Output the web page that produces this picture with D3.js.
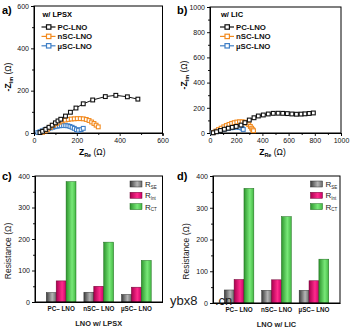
<!DOCTYPE html>
<html><head><meta charset="utf-8">
<script src="https://cdn.jsdelivr.net/npm/d3@7"></script>
<style>body{margin:0;background:#fff}svg{display:block}text{font-family:"Liberation Sans",Arial,sans-serif}</style>
</head><body>
<script>
// ---- Data: EIS (Zre, -Zim) ----
const seriesNames = ["PC-LNO", "nSC-LNO", "µSC-LNO"];
const pcLPSX = [[28,2],[40,8],[55,17],[70,27],[85,37],[100,48],[112,57],[125,65],[147,80],[170,98],[196,118],[230,138],[274,156],[333,172],[382,178],[436,171],[485,160]];
const nscLPSX = [[40,3],[52,10],[64,18],[77,27],[90,36],[104,44],[118,51],[132,57],[146,61],[160,64],[174,66],[188,67],[202,68],[216,68],[230,67],[244,64],[257,59],[269,52],[280,45],[290,37],[300,29]];
const uscLPSX = [[18,2],[28,6],[38,10],[48,14],[58,18],[68,21],[78,24],[88,27],[98,30],[108,32],[118,34],[128,35],[138,35],[148,35],[158,34],[168,31],[178,27],[188,22],[198,16],[208,13],[220,16],[230,22]];
const pcLIC = [[25,2],[50,10],[80,20],[110,30],[140,38],[170,45],[200,52],[237,63],[267,82],[300,103],[336,121],[369,135],[407,143],[445,151],[483,156],[520,157],[555,156],[590,154],[625,151],[660,149],[695,150],[725,152],[757,155],[789,159]];
const nscLIC = [[25,3],[45,15],[65,27],[85,38],[105,49],[125,59],[145,68],[165,76],[185,82],[205,87],[225,89],[245,89],[265,86],[282,78],[296,66],[308,52],[318,38],[326,26],[332,18]];
const uscLIC = [[20,2],[40,10],[60,17],[80,23],[100,29],[120,34],[140,38],[160,41],[180,43],[200,45],[225,44],[245,38],[254,28]];
// ---- Data: resistances ----
const cats = ["PC– LNO", "nSC– LNO", "µSC– LNO"];
const resKeys = ["SE", "Int", "CT"];
const rseLPSX = [30, 31, 24];
const rintLPSX = [67, 50, 47];
const rctLPSX = [382, 190, 132];
const rseLIC = [41, 40, 40];
const rintLIC = [74, 73, 70];
const rctLIC = [361, 272, 138];
// ticks
const ticksA = [0,200,400,600], minorA = [100,300,500];
const ticksB = [0,200,400,600,800,1000], minorB = [100,300,500,700,900];
const ticksBar = [0,100,200,300,400], minorBar = [50,150,250,350];

const colors = ["#111111", "#f28a1e", "#3f7fc6"];
const W = 351, H = 329;
const svg = d3.select("body").append("svg").attr("width", W).attr("height", H);
const defs = svg.append("defs");
function grad(id, c0, c1, c2){
  const g = defs.append("linearGradient").attr("id", id).attr("x1","0").attr("x2","1").attr("y1","0").attr("y2","0");
  g.append("stop").attr("offset","0").attr("stop-color", c0);
  g.append("stop").attr("offset","0.6").attr("stop-color", c1);
  g.append("stop").attr("offset","1").attr("stop-color", c2);
}
grad("gGray", "#3c3c3c", "#b5b5b5", "#6a6a6a");
grad("gPink", "#a8004f", "#ff2b8c", "#cc0068");
grad("gGreen", "#2e962e", "#78e878", "#44b844");
const barFills = ["url(#gGray)", "url(#gPink)", "url(#gGreen)"];
const barStroke = ["#333", "#6a0030", "#1d6b1d"];

function styleAxis(g){
  g.selectAll("path").attr("stroke", "#000").attr("stroke-width", 1);
  g.selectAll("line").attr("stroke", "#000").attr("stroke-width", 0.9);
  g.selectAll("text").attr("font-size", 7).attr("fill", "#111");
}

function frame(L, R, T, B){
  svg.append("rect").attr("x", L).attr("y", T).attr("width", R-L).attr("height", B-T)
    .attr("fill", "none").attr("stroke", "#000").attr("stroke-width", 1);
}

function eisPanel(o){
  const x = d3.scaleLinear().domain(o.xd).range([o.L, o.R]);
  const y = d3.scaleLinear().domain(o.yd).range([o.B, o.T]);
  const gx = svg.append("g").attr("transform", `translate(0,${o.B})`)
    .call(d3.axisBottom(x).tickValues(o.ticks).tickSize(3).tickPadding(2).tickFormat(d3.format("d")));
  styleAxis(gx);
  const gxm = svg.append("g").attr("transform", `translate(0,${o.B})`)
    .call(d3.axisBottom(x).tickValues(o.minor).tickSize(2).tickFormat(""));
  styleAxis(gxm);
  const gy = svg.append("g").attr("transform", `translate(${o.L},0)`)
    .call(d3.axisLeft(y).tickValues(o.ticks).tickSize(3).tickPadding(2).tickFormat(d3.format("d")));
  styleAxis(gy);
  const gym = svg.append("g").attr("transform", `translate(${o.L},0)`)
    .call(d3.axisLeft(y).tickValues(o.minor).tickSize(2).tickFormat(""));
  styleAxis(gym);
  frame(o.L, o.R, o.T, o.B);
  const order = [2,1,0];
  const line = d3.line().x(d => x(d[0])).y(d => y(d[1]));
  order.forEach(i => {
    const data = o.series[i];
    svg.append("path").datum(data).attr("d", line).attr("fill", "none")
      .attr("stroke", colors[i]).attr("stroke-width", 1);
    const s = 3.8;
    svg.append("g").selectAll("rect").data(data).join("rect")
      .attr("x", d => x(d[0]) - s/2).attr("y", d => y(d[1]) - s/2)
      .attr("width", s).attr("height", s).attr("fill", "#fff")
      .attr("stroke", colors[i]).attr("stroke-width", 1.1);
  });
  svg.append("text").attr("x", o.legX + 1).attr("y", o.legY).attr("font-size", 7.5)
    .attr("font-weight", "bold").text(o.title);
  seriesNames.forEach((n, i) => {
    const ly = o.legY + 10 + i * 9.4;
    svg.append("line").attr("x1", o.legX).attr("x2", o.legX + 14).attr("y1", ly).attr("y2", ly)
      .attr("stroke", colors[i]).attr("stroke-width", 1.2);
    svg.append("rect").attr("x", o.legX + 5).attr("y", ly - 2.2).attr("width", 4.4).attr("height", 4.4)
      .attr("fill", "#fff").attr("stroke", colors[i]).attr("stroke-width", 1.2);
    svg.append("text").attr("x", o.legX + 16).attr("y", ly + 2.8).attr("font-size", 7.8)
      .attr("font-weight", "bold").attr("fill", "#111").text(n);
  });
  const xt = svg.append("text").attr("x", (o.L + o.R)/2 + o.xtOff).attr("y", o.B + 22)
    .attr("text-anchor", "middle").attr("font-size", 8.5).attr("font-weight", "bold");
  xt.append("tspan").text("Z");
  xt.append("tspan").attr("font-size", 5.5).attr("dy", 2).text("Re");
  xt.append("tspan").attr("dy", -2).attr("font-weight", "normal").text(" (Ω)");
  const yt = svg.append("text").attr("transform", `translate(${o.L - 23},${o.ytY}) rotate(-90)`)
    .attr("text-anchor", "middle").attr("font-size", 8.5).attr("font-weight", "bold");
  yt.append("tspan").text("-Z");
  yt.append("tspan").attr("font-size", 5.5).attr("dy", 2).text("Im");
  yt.append("tspan").attr("dy", -2).attr("font-weight", "normal").text(" (Ω)");
  svg.append("text").attr("x", o.labX).attr("y", o.labY).attr("font-size", 11)
    .attr("font-weight", "bold").text(o.label);
}

function barPanel(o){
  const x0 = d3.scaleBand().domain(cats).range([o.L, o.R]).paddingInner(0.21).paddingOuter(0.3);
  const x1 = d3.scaleBand().domain(resKeys).range([0, x0.bandwidth()]);
  const y = d3.scaleLinear().domain([0, 400]).range([o.B, o.T]);
  const gy = svg.append("g").attr("transform", `translate(${o.L},0)`)
    .call(d3.axisLeft(y).tickValues(ticksBar).tickSize(3).tickPadding(2).tickFormat(d3.format("d")));
  styleAxis(gy);
  const gym = svg.append("g").attr("transform", `translate(${o.L},0)`)
    .call(d3.axisLeft(y).tickValues(minorBar).tickSize(2).tickFormat(""));
  styleAxis(gym);
  const gx = svg.append("g").attr("transform", `translate(0,${o.B})`)
    .call(d3.axisBottom(x0).tickSize(0).tickPadding(5));
  styleAxis(gx);
  gx.selectAll("text").attr("font-size", 6.3).attr("font-weight", "bold");
  const vals = [o.rse, o.rint, o.rct];
  cats.forEach((c, ci) => {
    resKeys.forEach((k, ki) => {
      const v = vals[ki][ci];
      svg.append("rect").attr("x", x0(c) + x1(k)).attr("y", y(v))
        .attr("width", x1.bandwidth()).attr("height", y(0) - y(v))
        .attr("fill", barFills[ki]).attr("stroke", barStroke[ki]).attr("stroke-width", 0.5);
    });
  });
  frame(o.L, o.R, o.T, o.B);
  resKeys.forEach((k, i) => {
    const ly = o.legY + i * 11.3;
    svg.append("rect").attr("x", o.legX).attr("y", ly).attr("width", 12).attr("height", 6)
      .attr("fill", barFills[i]).attr("stroke", barStroke[i]).attr("stroke-width", 0.5);
    const t = svg.append("text").attr("x", o.legX + 15).attr("y", ly + 6).attr("font-size", 8).attr("fill", "#222");
    t.append("tspan").text("R");
    t.append("tspan").attr("font-size", 4.5).attr("dy", 1.5).text(k);
  });
  svg.append("text").attr("x", (o.L + o.R)/2).attr("y", o.B + 24).attr("text-anchor", "middle")
    .attr("font-size", 7.4).attr("font-weight", "bold").attr("fill", "#222").text(o.xtitle);
  svg.append("text").attr("transform", `translate(${o.L - 24},${(o.T + o.B)/2 + 12}) rotate(-90)`)
    .attr("text-anchor", "middle").attr("font-size", 8.5).attr("fill", "#222").text("Resistance (Ω)");
  svg.append("text").attr("x", o.labX).attr("y", o.labY).attr("font-size", 11)
    .attr("font-weight", "bold").text(o.label);
}

eisPanel({L:34, R:162.5, T:6, B:133, xd:[0,600], yd:[0,600], ticks:ticksA, minor:minorA,
  series:[pcLPSX, nscLPSX, uscLPSX], title:"w/ LPSX", legX:41.5, legY:17, label:"a)", labX:2, labY:14,
  xtOff:-6, ytY:77});
eisPanel({L:210, R:341, T:7, B:133, xd:[0,1000], yd:[0,1000], ticks:ticksB, minor:minorB,
  series:[pcLIC, nscLIC, uscLIC], title:"w/ LIC", legX:220, legY:17, label:"b)", labX:177, labY:14,
  xtOff:-3, ytY:75});
barPanel({L:35, R:162.5, T:176, B:302, rse:rseLPSX, rint:rintLPSX, rct:rctLPSX,
  legX:130, legY:181, xtitle:"LNO w/ LPSX", label:"c)", labX:2, labY:180});
barPanel({L:213, R:340, T:176, B:303, rse:rseLIC, rint:rintLIC, rct:rctLIC,
  legX:310.5, legY:181, xtitle:"LNO w/ LIC", label:"d)", labX:177, labY:180});
// watermark (split around the "0" tick label of panel d)
svg.append("text").attr("x", 170).attr("y", 305).attr("font-size", 13)
  .attr("font-family", "DejaVu Sans").attr("fill", "#1a1a1a").text("ybx8");
svg.append("text").attr("x", 215).attr("y", 305).attr("font-size", 13)
  .attr("font-family", "DejaVu Sans").attr("fill", "#1a1a1a").text(".cn");
</script>
</body></html>
